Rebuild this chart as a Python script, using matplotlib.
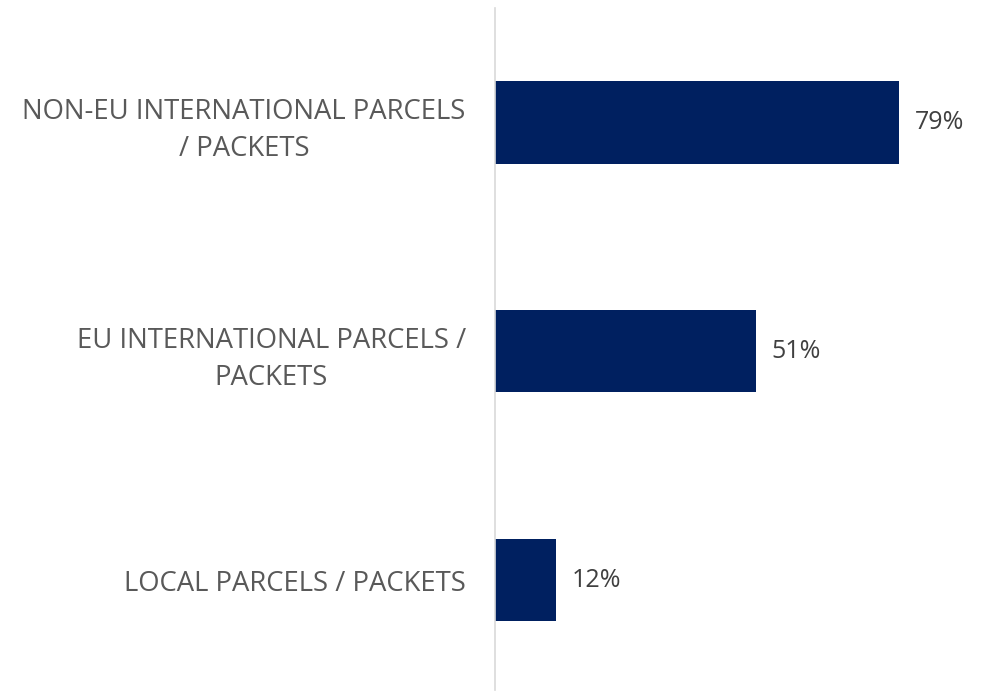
import matplotlib.pyplot as plt

categories = ["NON-EU INTERNATIONAL PARCELS\n/ PACKETS",
              "EU INTERNATIONAL PARCELS /\nPACKETS",
              "LOCAL PARCELS / PACKETS"]
values = [79, 51, 12]

plt.rcParams['font.family'] = ['Open Sans', 'DejaVu Sans']

fig = plt.figure(figsize=(9.81, 6.91), dpi=100)
ax = fig.add_axes([495 / 981, 1 - 690 / 691, 486 / 981, 682 / 691])

pos = list(range(len(values)))
ax.barh(pos, values, height=0.36, color='#002060')
for p, v in zip(pos, values):
    ax.text(v + 3, p, '{}%'.format(v), va='center', ha='left',
            fontsize=18, color='#404040')

ax.set_xlim(0, 95)
ax.set_ylim(2.48, -0.5)
ax.set_yticks(pos)
ax.set_yticklabels(categories, fontsize=19.8, color='#595959',
                   multialignment='center', linespacing=1.45)
ax.tick_params(axis='y', length=0, pad=21)
ax.set_xticks([])
for s in ['top', 'right', 'bottom']:
    ax.spines[s].set_visible(False)
ax.spines['left'].set_color('#d9d9d9')
ax.spines['left'].set_linewidth(1.2)

fig.savefig('out.png', dpi=100)
